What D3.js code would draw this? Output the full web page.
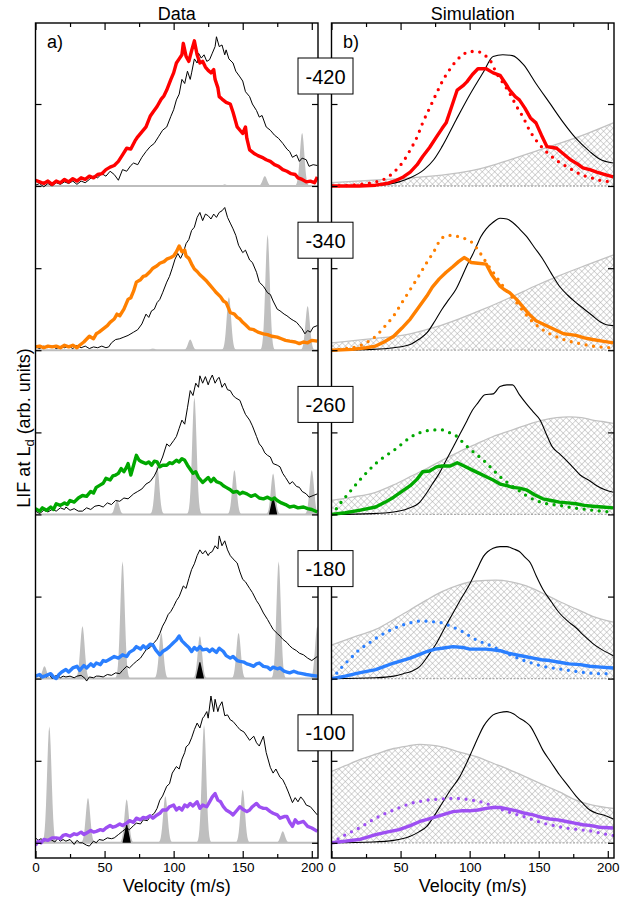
<!DOCTYPE html>
<html><head><meta charset="utf-8">
<script src="https://cdn.jsdelivr.net/npm/d3@7"></script>
<style>body{margin:0;background:#fff}svg{display:block}text{font-family:"Liberation Sans",Arial,sans-serif}</style>
</head><body><svg id="c" width="638" height="903"></svg>
<script>
// ---------------- DATA ----------------
const labels = ["-420","-340","-260","-180","-100"];
const colors = ["#ff0000","#ff8000","#00a800","#2a7fff","#9d4ff2"];
const xTicksMajor = [0,50,100,150,200];
const xTicksMinor = [25,75,125,175];

// Left (Data) panels: colored measured curve, black reference curve
const data1 = [[0,0.07],[3,0.05],[6,0.03],[9,0.06],[12,0.02],[15,0.06],[18,0.04],[21,0.08],[24,0.05],[27,0.09],[30,0.06],[33,0.1],[36,0.08],[39,0.12],[42,0.1],[45,0.14],[48,0.15],[51,0.2],[54,0.23],[57,0.25],[60,0.3],[63,0.38],[66,0.46],[69,0.45],[72,0.55],[74,0.6],[77,0.66],[80,0.72],[83,0.85],[85,0.9],[88,0.97],[91,1.06],[93,1.1],[95,1.17],[98,1.3],[100,1.38],[102,1.5],[104,1.55],[106,1.6],[107,1.74],[109,1.58],[111,1.52],[113,1.65],[115,1.77],[117,1.6],[119,1.5],[121,1.52],[123,1.45],[125,1.41],[127,1.38],[129,1.42],[130,1.3],[132,1.2],[133,1.09],[135,1.06],[138,1.02],[141,1.0],[143,0.9],[146,0.72],[148,0.68],[150,0.64],[152,0.72],[153,0.58],[155,0.44],[158,0.4],[161,0.37],[164,0.35],[167,0.32],[170,0.3],[173,0.26],[176,0.24],[179,0.2],[182,0.18],[185,0.15],[188,0.14],[190,0.1],[193,0.08],[196,0.05],[199,0.06],[202,0.04],[204,0.11]];
const ref1 = [[0,0.01],[3,0.03],[6,-0.01],[9,0.03],[12,0.0],[15,0.04],[18,0.02],[21,0.05],[24,0.03],[27,0.06],[30,0.02],[33,0.06],[36,0.04],[39,0.08],[42,0.12],[45,0.1],[48,0.15],[51,0.12],[54,0.18],[57,0.14],[60,0.07],[63,0.2],[66,0.18],[69,0.25],[71,0.28],[74,0.26],[77,0.35],[80,0.42],[83,0.48],[86,0.52],[89,0.6],[92,0.68],[95,0.72],[98,0.85],[100,0.93],[102,1.05],[104,1.12],[106,1.3],[108,1.25],[110,1.4],[112,1.3],[113,1.38],[115,1.55],[117,1.5],[118,1.62],[120,1.56],[122,1.6],[124,1.52],[126,1.54],[128,1.62],[130,1.7],[131,1.82],[133,1.7],[135,1.72],[137,1.6],[138,1.66],[140,1.55],[143,1.5],[145,1.4],[148,1.33],[150,1.28],[152,1.15],[155,1.09],[157,1.0],[160,0.92],[162,0.84],[164,0.86],[167,0.72],[170,0.68],[173,0.62],[176,0.58],[179,0.52],[182,0.45],[184,0.42],[186,0.35],[189,0.38],[191,0.3],[193,0.34],[196,0.32],[198,0.24],[201,0.26],[204,0.25]];
const data2 = [[0,0.04],[3,0.05],[6,0.03],[9,0.05],[12,0.04],[15,0.05],[18,0.03],[21,0.06],[24,0.04],[27,0.06],[30,0.03],[32,0.06],[35,0.1],[39,0.17],[42,0.14],[44,0.2],[46,0.22],[49,0.26],[52,0.3],[54,0.34],[57,0.38],[59,0.44],[61,0.42],[64,0.5],[67,0.62],[69,0.64],[71,0.72],[73,0.83],[76,0.86],[78,0.9],[80,0.91],[83,0.96],[85,1.0],[88,1.03],[90,1.06],[93,1.08],[95,1.11],[98,1.13],[100,1.15],[102,1.2],[104,1.27],[106,1.2],[108,1.22],[109,1.15],[111,1.12],[113,1.05],[115,0.99],[117,0.96],[119,0.92],[121,0.89],[124,0.84],[126,0.8],[129,0.74],[131,0.7],[134,0.65],[136,0.6],[138,0.58],[140,0.5],[141,0.46],[144,0.44],[146,0.4],[148,0.38],[150,0.34],[152,0.31],[155,0.26],[158,0.25],[161,0.22],[165,0.2],[168,0.19],[171,0.17],[175,0.16],[178,0.14],[181,0.12],[184,0.11],[188,0.1],[191,0.08],[194,0.1],[197,0.09],[200,0.12],[204,0.11]];
const ref2 = [[0,0.04],[3,0.02],[6,0.05],[9,0.03],[12,0.05],[15,0.02],[18,0.04],[21,0.03],[24,0.05],[27,0.02],[30,0.06],[33,0.03],[36,0.05],[39,0.02],[42,0.04],[45,0.03],[48,0.05],[51,0.03],[53,0.04],[55,0.09],[58,0.13],[61,0.14],[64,0.16],[67,0.18],[71,0.22],[74,0.25],[77,0.32],[80,0.44],[82,0.4],[84,0.48],[86,0.5],[88,0.58],[90,0.62],[92,0.7],[95,0.83],[97,0.9],[99,1.0],[101,1.11],[103,1.18],[105,1.12],[107,1.19],[109,1.3],[111,1.35],[113,1.46],[115,1.5],[117,1.62],[119,1.68],[121,1.58],[123,1.66],[125,1.64],[127,1.6],[129,1.66],[131,1.62],[133,1.68],[135,1.7],[137,1.74],[139,1.62],[141,1.55],[143,1.48],[145,1.4],[147,1.28],[150,1.19],[152,1.22],[155,1.1],[157,1.07],[160,0.95],[162,0.83],[165,0.78],[168,0.7],[170,0.68],[172,0.6],[175,0.5],[177,0.48],[180,0.44],[182,0.42],[185,0.38],[187,0.36],[189,0.34],[191,0.3],[193,0.26],[195,0.2],[197,0.24],[199,0.22],[201,0.28],[204,0.3]];
const data3 = [[0,0.07],[3,0.04],[5,0.08],[8,0.05],[11,0.09],[13,0.06],[15,0.13],[18,0.11],[21,0.14],[23,0.12],[25,0.17],[28,0.15],[31,0.2],[34,0.23],[37,0.22],[40,0.28],[42,0.26],[44,0.33],[47,0.36],[49,0.38],[51,0.44],[54,0.42],[56,0.47],[58,0.48],[60,0.5],[62,0.56],[64,0.52],[66,0.58],[67,0.62],[69,0.48],[71,0.6],[73,0.72],[75,0.66],[77,0.64],[80,0.62],[82,0.64],[84,0.6],[86,0.65],[88,0.64],[90,0.58],[92,0.6],[95,0.6],[97,0.63],[99,0.62],[102,0.66],[104,0.64],[106,0.68],[108,0.66],[110,0.6],[112,0.55],[114,0.5],[116,0.52],[118,0.45],[121,0.39],[123,0.42],[125,0.45],[127,0.4],[129,0.44],[131,0.4],[134,0.38],[136,0.35],[138,0.33],[141,0.3],[143,0.27],[146,0.28],[148,0.25],[150,0.27],[153,0.25],[156,0.22],[159,0.24],[162,0.2],[165,0.19],[168,0.21],[171,0.18],[173,0.2],[175,0.17],[178,0.14],[181,0.12],[184,0.09],[187,0.1],[190,0.08],[194,0.09],[197,0.07],[200,0.06],[204,0.03]];
const ref3 = [[0,0.04],[3,0.01],[6,0.05],[9,0.03],[12,0.06],[15,0.04],[18,0.08],[21,0.06],[22,0.09],[25,0.05],[28,0.07],[31,0.04],[34,0.04],[37,0.08],[40,0.06],[43,0.1],[46,0.11],[49,0.09],[52,0.14],[55,0.12],[58,0.17],[61,0.16],[64,0.2],[67,0.19],[71,0.25],[74,0.28],[77,0.31],[80,0.37],[83,0.4],[86,0.47],[88,0.54],[90,0.62],[92,0.7],[95,0.86],[97,0.83],[100,0.9],[102,0.95],[104,1.05],[106,1.15],[108,1.1],[110,1.3],[112,1.51],[114,1.45],[116,1.6],[118,1.55],[119,1.69],[121,1.6],[123,1.68],[125,1.58],[126,1.63],[128,1.7],[130,1.6],[132,1.66],[133,1.67],[135,1.55],[137,1.6],[139,1.52],[141,1.51],[143,1.45],[145,1.42],[148,1.39],[150,1.3],[152,1.22],[155,1.15],[157,1.08],[160,0.95],[162,0.86],[164,0.82],[166,0.75],[168,0.72],[170,0.7],[172,0.62],[175,0.6],[177,0.58],[179,0.5],[181,0.45],[184,0.37],[186,0.4],[189,0.34],[191,0.33],[193,0.28],[196,0.25],[198,0.21],[201,0.23],[204,0.25]];
const data4 = [[0,0.03],[3,0.05],[5,0.02],[8,0.04],[11,0.06],[13,0.02],[15,0.0],[17,0.05],[19,0.08],[22,0.11],[24,0.08],[27,0.13],[30,0.15],[32,0.1],[35,0.16],[37,0.13],[40,0.18],[42,0.15],[44,0.19],[47,0.17],[49,0.22],[51,0.21],[54,0.24],[57,0.27],[60,0.25],[63,0.29],[66,0.27],[68,0.32],[71,0.35],[73,0.39],[76,0.36],[78,0.4],[80,0.37],[83,0.42],[85,0.41],[87,0.35],[90,0.29],[92,0.33],[95,0.36],[97,0.39],[100,0.44],[102,0.47],[104,0.52],[106,0.46],[109,0.41],[111,0.38],[113,0.33],[115,0.38],[117,0.35],[119,0.39],[121,0.35],[124,0.36],[126,0.33],[128,0.36],[131,0.32],[133,0.37],[136,0.33],[138,0.28],[141,0.25],[143,0.27],[146,0.22],[148,0.21],[151,0.2],[153,0.18],[155,0.17],[158,0.15],[160,0.18],[162,0.19],[165,0.15],[168,0.14],[170,0.11],[172,0.14],[175,0.12],[177,0.13],[180,0.09],[182,0.08],[184,0.07],[187,0.09],[190,0.07],[193,0.06],[196,0.05],[200,0.04],[204,0.03]];
const ref4 = [[0,0.03],[2,0.05],[4,0.01],[6,0.04],[8,0.02],[10,0.05],[12,0.0],[14,0.03],[16,0.04],[18,0.01],[20,0.03],[22,0.02],[25,0.03],[28,0.01],[30,0.03],[33,0.04],[36,0.0],[37,-0.03],[39,0.02],[42,0.01],[44,0.03],[46,0.03],[49,0.02],[52,0.05],[55,0.04],[58,0.07],[61,0.06],[63,0.1],[66,0.15],[68,0.13],[71,0.18],[73,0.21],[76,0.25],[78,0.3],[80,0.35],[83,0.38],[86,0.44],[88,0.48],[90,0.55],[92,0.64],[94,0.7],[96,0.78],[98,0.82],[100,0.88],[102,0.95],[104,1.0],[107,1.13],[109,1.1],[111,1.22],[113,1.33],[115,1.4],[117,1.5],[119,1.57],[121,1.52],[123,1.56],[125,1.5],[126,1.53],[128,1.55],[130,1.62],[132,1.58],[133,1.74],[135,1.62],[137,1.68],[139,1.57],[141,1.5],[143,1.46],[146,1.41],[148,1.3],[150,1.21],[152,1.18],[155,1.1],[157,1.05],[160,0.95],[162,0.9],[165,0.8],[168,0.72],[170,0.66],[172,0.6],[175,0.55],[177,0.52],[179,0.48],[182,0.44],[184,0.4],[186,0.37],[189,0.34],[191,0.31],[194,0.29],[197,0.25],[200,0.22],[204,0.27]];
const data5 = [[0,-0.03],[2,0.02],[4,0.0],[6,0.04],[9,0.03],[12,0.06],[15,0.06],[18,0.05],[20,0.09],[22,0.1],[25,0.08],[28,0.11],[30,0.1],[33,0.13],[35,0.1],[37,0.12],[40,0.15],[42,0.13],[44,0.14],[47,0.16],[49,0.15],[51,0.18],[54,0.21],[56,0.19],[58,0.2],[61,0.23],[63,0.21],[66,0.24],[68,0.27],[71,0.25],[73,0.3],[76,0.28],[78,0.31],[80,0.3],[83,0.33],[85,0.3],[88,0.34],[90,0.36],[92,0.4],[95,0.4],[97,0.44],[100,0.46],[102,0.4],[104,0.43],[106,0.4],[108,0.46],[110,0.44],[112,0.48],[114,0.45],[117,0.5],[119,0.42],[121,0.46],[124,0.44],[126,0.5],[128,0.56],[130,0.6],[132,0.52],[134,0.5],[136,0.44],[138,0.4],[141,0.37],[143,0.34],[146,0.4],[148,0.44],[150,0.41],[153,0.38],[155,0.4],[157,0.44],[160,0.48],[162,0.44],[165,0.42],[167,0.42],[170,0.38],[172,0.36],[175,0.34],[177,0.3],[180,0.32],[182,0.32],[184,0.25],[186,0.2],[188,0.28],[190,0.24],[194,0.26],[197,0.2],[200,0.18],[204,0.14]];
const ref5 = [[0,0.06],[2,0.03],[4,0.05],[6,0.02],[8,0.04],[11,0.04],[14,0.01],[16,0.05],[18,0.02],[20,0.04],[22,0.02],[25,0.04],[28,-0.02],[30,0.03],[32,0.0],[34,0.0],[37,-0.03],[39,-0.04],[42,0.02],[44,0.0],[46,0.04],[49,0.03],[52,0.06],[55,0.05],[57,0.06],[60,0.1],[63,0.14],[66,0.18],[68,0.16],[71,0.21],[73,0.24],[76,0.23],[78,0.28],[81,0.27],[83,0.32],[86,0.36],[88,0.42],[90,0.52],[92,0.57],[95,0.69],[97,0.72],[99,0.85],[102,0.93],[104,0.9],[106,1.02],[108,1.1],[109,1.17],[111,1.2],[113,1.28],[115,1.38],[117,1.46],[119,1.4],[121,1.52],[122,1.54],[124,1.6],[125,1.52],[127,1.79],[129,1.6],[130,1.75],[132,1.6],[133,1.66],[135,1.72],[137,1.55],[139,1.56],[141,1.5],[143,1.48],[146,1.42],[148,1.38],[151,1.35],[153,1.3],[155,1.25],[158,1.3],[160,1.22],[162,1.18],[165,1.3],[167,1.1],[170,0.92],[172,0.85],[174,0.9],[177,0.8],[179,0.77],[181,0.7],[183,0.62],[186,0.49],[188,0.55],[190,0.5],[192,0.56],[194,0.52],[196,0.46],[199,0.44],[201,0.4],[204,0.34]];

// Gray resonance peaks (center velocity, height) and black markers
const peakCenters = [[137,166,193],[85,112,140,168,197],[59,88,115,144,172,200],[6.5,34,63,91,119,147,176,204],[10,38,66,94,122,150,179]];
const peakHeights = [[0.02,0.12,0.65],[0.02,0.13,0.65,1.41,0.54],[0.17,0.6,1.43,0.54,0.5,0.54],[0.15,0.64,1.43,0.56,0.52,0.56,1.43,0.64],[1.42,0.55,0.53,0.57,1.44,0.65,0.14]];
const markerCenters = [null,null,172,119,66];
const markerHeights = [null,null,0.2,0.2,0.22];

// Right (Simulation) panels
const hatch1 = [[0,0.04],[30,0.07],[57,0.1],[92,0.16],[110,0.22],[129,0.32],[147,0.42],[165,0.52],[185,0.64],[204,0.77]];
const simRef1 = [[0,0],[20,0],[35,0.01],[49,0.05],[57,0.1],[67,0.2],[74,0.32],[80,0.48],[90,0.8],[100,1.11],[110,1.39],[117,1.58],[124,1.6],[131,1.59],[139,1.48],[148,1.25],[158,1.01],[168,0.77],[177,0.58],[187,0.42],[194,0.33],[204,0.28]];
const simSolid1 = [[0,0],[20,0.0],[32,0.01],[40,0.03],[47,0.07],[52,0.11],[57,0.17],[62,0.26],[66,0.36],[71,0.47],[76,0.6],[80,0.7],[83,0.77],[87,0.97],[91,1.17],[95,1.22],[98,1.27],[102,1.36],[106,1.43],[109,1.43],[112,1.43],[117,1.38],[122,1.35],[126,1.25],[129,1.17],[133,1.09],[136,1.05],[140,0.95],[144,0.83],[148,0.77],[152,0.62],[156,0.48],[160,0.47],[163,0.46],[168,0.39],[173,0.32],[178,0.27],[182,0.22],[187,0.2],[192,0.17],[198,0.14],[204,0.11]];
const simDot1 = [[0,0],[15,0.01],[25,0.03],[32,0.05],[40,0.1],[47,0.2],[52,0.3],[57,0.44],[62,0.6],[66,0.77],[71,0.95],[76,1.13],[81,1.3],[86,1.43],[91,1.54],[95,1.6],[100,1.64],[105,1.64],[109,1.62],[112,1.58],[116,1.5],[119,1.39],[124,1.26],[129,1.13],[134,0.97],[139,0.83],[143,0.69],[148,0.56],[153,0.46],[158,0.38],[164,0.3],[170,0.24],[176,0.18],[182,0.13],[188,0.1],[194,0.07],[204,0.05]];
const hatch2 = [[0,0.09],[30,0.14],[57,0.2],[75,0.28],[92,0.38],[110,0.5],[129,0.64],[147,0.78],[165,0.91],[185,1.04],[204,1.16]];
const simRef2 = [[0,0],[30,0.01],[45,0.03],[57,0.07],[63,0.13],[69,0.21],[75,0.36],[80,0.5],[85,0.62],[90,0.74],[94,0.88],[98,1.03],[102,1.16],[105,1.27],[108,1.38],[112,1.48],[117,1.56],[122,1.61],[127,1.6],[131,1.56],[136,1.48],[141,1.39],[147,1.25],[153,1.11],[159,0.94],[165,0.78],[171,0.67],[177,0.58],[183,0.5],[189,0.42],[195,0.34],[199,0.31],[204,0.3]];
const simSolid2 = [[0,0],[15,0.01],[25,0.03],[32,0.05],[38,0.1],[45,0.17],[51,0.27],[57,0.38],[63,0.52],[69,0.66],[73,0.77],[78,0.87],[83,0.95],[88,1.02],[92,1.08],[96,1.13],[99,1.1],[101,1.07],[106,1.06],[112,1.05],[116,0.92],[122,0.78],[125,0.74],[129,0.7],[134,0.62],[139,0.52],[143,0.44],[148,0.36],[153,0.32],[158,0.28],[163,0.24],[168,0.2],[173,0.19],[177,0.18],[183,0.15],[189,0.13],[196,0.11],[204,0.09]];
const simDot2 = [[0,0],[10,0.02],[20,0.05],[26,0.1],[32,0.17],[38,0.28],[45,0.42],[51,0.58],[57,0.74],[63,0.9],[69,1.07],[74,1.2],[80,1.37],[86,1.4],[93,1.38],[98,1.35],[102,1.31],[107,1.2],[112,1.07],[117,0.95],[122,0.83],[128,0.7],[134,0.58],[140,0.45],[146,0.34],[152,0.26],[158,0.2],[165,0.15],[172,0.11],[180,0.08],[189,0.05],[204,0.03]];
const hatch3 = [[0,0.17],[15,0.21],[32,0.27],[45,0.36],[57,0.46],[69,0.56],[80,0.66],[92,0.76],[105,0.86],[117,0.95],[129,1.02],[141,1.09],[153,1.15],[163,1.18],[172,1.19],[181,1.18],[189,1.15],[197,1.13],[204,1.11]];
const simRef3 = [[0,0],[30,0.01],[45,0.03],[55,0.07],[64,0.15],[68,0.24],[73,0.37],[78,0.5],[83,0.66],[88,0.82],[93,0.98],[98,1.14],[102,1.27],[106,1.36],[111,1.46],[117,1.47],[122,1.56],[127,1.58],[131,1.58],[136,1.46],[141,1.35],[146,1.25],[151,1.15],[155,1.0],[160,0.82],[165,0.74],[170,0.66],[175,0.57],[180,0.48],[186,0.42],[192,0.35],[198,0.3],[204,0.27]];
const simSolid3 = [[0,0],[10,0.02],[20,0.05],[32,0.09],[39,0.15],[45,0.21],[51,0.28],[57,0.35],[62,0.43],[66,0.52],[71,0.53],[76,0.58],[80,0.59],[86,0.59],[91,0.63],[96,0.59],[102,0.54],[107,0.5],[112,0.46],[117,0.42],[122,0.37],[127,0.35],[131,0.33],[136,0.32],[141,0.3],[147,0.24],[153,0.19],[159,0.17],[165,0.15],[171,0.14],[177,0.13],[183,0.11],[189,0.1],[196,0.09],[204,0.08]];
const simDot3 = [[0,0],[4,0.08],[8,0.17],[14,0.29],[20,0.41],[26,0.52],[32,0.62],[38,0.7],[45,0.78],[51,0.86],[57,0.94],[63,0.99],[69,1.02],[75,1.03],[80,1.03],[85,1.0],[90,0.96],[95,0.88],[100,0.8],[105,0.73],[110,0.66],[116,0.56],[122,0.46],[128,0.38],[134,0.31],[141,0.23],[148,0.17],[156,0.13],[165,0.11],[175,0.08],[185,0.06],[195,0.04],[204,0.03]];
const hatch4 = [[0,0.41],[15,0.5],[32,0.6],[45,0.72],[57,0.84],[69,0.96],[80,1.06],[92,1.14],[105,1.19],[119,1.2],[130,1.18],[141,1.13],[153,1.04],[165,0.94],[177,0.85],[189,0.76],[204,0.69]];
const simRef4 = [[0,0],[32,0.01],[45,0.03],[52,0.06],[58,0.09],[64,0.15],[70,0.28],[76,0.43],[82,0.62],[88,0.8],[94,0.98],[100,1.15],[105,1.32],[110,1.49],[117,1.59],[122,1.61],[127,1.61],[132,1.58],[136,1.55],[140,1.48],[144,1.41],[148,1.26],[153,1.09],[159,0.94],[165,0.8],[171,0.7],[177,0.62],[183,0.52],[189,0.43],[196,0.35],[204,0.28]];
const simSolid4 = [[0,0],[10,0.03],[20,0.07],[32,0.11],[45,0.19],[57,0.25],[63,0.29],[69,0.33],[75,0.36],[80,0.37],[88,0.39],[95,0.38],[100,0.36],[106,0.36],[112,0.36],[117,0.35],[122,0.34],[128,0.31],[134,0.29],[140,0.27],[146,0.25],[152,0.23],[158,0.22],[165,0.2],[172,0.18],[180,0.17],[187,0.15],[195,0.14],[204,0.13]];
const simDot4 = [[0,0],[4,0.07],[8,0.15],[14,0.25],[20,0.35],[26,0.42],[32,0.49],[38,0.55],[45,0.61],[51,0.65],[57,0.68],[63,0.7],[69,0.7],[75,0.69],[80,0.68],[86,0.64],[93,0.59],[99,0.53],[105,0.47],[111,0.43],[117,0.39],[123,0.34],[129,0.29],[135,0.25],[141,0.21],[147,0.18],[153,0.15],[160,0.13],[168,0.11],[176,0.09],[185,0.07],[195,0.06],[204,0.06]];
const hatch5 = [[0,0.87],[10,0.94],[20,1.01],[32,1.08],[45,1.15],[55,1.18],[64,1.2],[72,1.19],[80,1.17],[92,1.11],[105,1.05],[117,0.97],[129,0.89],[141,0.8],[153,0.71],[165,0.62],[177,0.52],[189,0.46],[204,0.42]];
const simRef5 = [[0,0],[30,0.01],[45,0.03],[57,0.08],[63,0.13],[69,0.2],[74,0.32],[80,0.48],[86,0.64],[93,0.81],[98,0.98],[102,1.13],[106,1.28],[110,1.42],[114,1.51],[117,1.56],[122,1.59],[127,1.6],[132,1.57],[136,1.52],[140,1.48],[144,1.42],[148,1.3],[153,1.13],[159,0.98],[165,0.83],[171,0.7],[177,0.57],[182,0.48],[187,0.4],[192,0.36],[197,0.34],[204,0.29]];
const simSolid5 = [[0,0],[10,0.02],[20,0.04],[32,0.1],[40,0.13],[49,0.16],[57,0.21],[64,0.26],[70,0.29],[76,0.32],[82,0.35],[88,0.38],[94,0.39],[100,0.39],[106,0.4],[112,0.42],[117,0.43],[122,0.43],[128,0.41],[134,0.39],[140,0.36],[146,0.34],[152,0.31],[158,0.29],[164,0.28],[170,0.26],[176,0.24],[182,0.22],[188,0.21],[194,0.19],[204,0.18]];
const simDot5 = [[0,0],[4,0.04],[8,0.08],[14,0.13],[20,0.18],[26,0.24],[32,0.3],[38,0.35],[45,0.4],[51,0.44],[57,0.48],[63,0.5],[69,0.52],[76,0.53],[86,0.54],[92,0.54],[98,0.53],[105,0.51],[112,0.48],[118,0.44],[124,0.4],[131,0.36],[139,0.32],[146,0.28],[153,0.24],[161,0.21],[170,0.18],[180,0.16],[189,0.14],[197,0.11],[204,0.09]];

const dataSeries = [data1,data2,data3,data4,data5];
const refSeries = [ref1,ref2,ref3,ref4,ref5];
const hatchSeries = [hatch1,hatch2,hatch3,hatch4,hatch5];
const simRefSeries = [simRef1,simRef2,simRef3,simRef4,simRef5];
const simSolidSeries = [simSolid1,simSolid2,simSolid3,simSolid4,simSolid5];
const simDotSeries = [simDot1,simDot2,simDot3,simDot4,simDot5];

// ---------------- LAYOUT ----------------
const svg = d3.select("#c");
const yTop = 23, yBottom = 858;
const base0 = 186, step = 164.2, unit = 82;
const xMax = 204.5;
const xL = d3.scaleLinear().domain([0,xMax]).range([35.5,318]);
const xR = d3.scaleLinear().domain([0,xMax]).range([331.5,614]);
const yS = i => d3.scaleLinear().domain([0,1]).range([base0+step*i, base0+step*i-unit]);

const defs = svg.append("defs");
const pat = defs.append("pattern").attr("id","hatch").attr("patternUnits","userSpaceOnUse")
  .attr("width",4.4).attr("height",4.4).attr("patternTransform","rotate(45)");
pat.append("path").attr("d","M0,0H4.4M0,0V4.4").attr("stroke","#a6a6a6").attr("stroke-width",0.9).attr("fill","none");
[["clipL",xL],["clipR",xR]].forEach(([id,x])=>{
  defs.append("clipPath").attr("id",id).append("rect")
    .attr("x",x(0)).attr("y",yTop).attr("width",x(xMax)-x(0)).attr("height",yBottom-yTop);
});

const gL = svg.append("g").attr("clip-path","url(#clipL)");
const gR = svg.append("g").attr("clip-path","url(#clipR)");

const sigma = 1.6;
for (let i=0;i<5;i++){
  const y = yS(i);
  const line = d3.line().x(d=>xL(d[0])).y(d=>y(d[1]));
  gL.append("line").attr("x1",xL(0)).attr("x2",xL(xMax)).attr("y1",y(0)).attr("y2",y(0))
    .attr("stroke","#bdbdbd").attr("stroke-width",2);
  const area = d3.area().x(d=>xL(d[0])).y0(y(0)).y1(d=>y(d[1]));
  peakCenters[i].forEach((c,k)=>{
    const h = peakHeights[i][k];
    const pts = d3.range(-4.5,4.51,0.3).map(t=>[c+t*sigma, h*Math.exp(-t*t/2)]);
    gL.append("path").attr("d",area(pts)).attr("fill","#bfbfbf");
  });
  if (markerCenters[i]!==null){
    const c = markerCenters[i], h = markerHeights[i];
    gL.append("path").attr("d",area([[c-3,0],[c-0.4,h],[c+0.4,h],[c+3,0]])).attr("fill","#000");
  }
  gL.append("path").attr("d",line(refSeries[i])).attr("fill","none").attr("stroke","#000").attr("stroke-width",1);
  gL.append("path").attr("d",line(dataSeries[i])).attr("fill","none").attr("stroke",colors[i])
    .attr("stroke-width",3.4).attr("stroke-linejoin","round");

  const lineR = d3.line().x(d=>xR(d[0])).y(d=>y(d[1]));
  const lineRs = d3.line().curve(d3.curveMonotoneX).x(d=>xR(d[0])).y(d=>y(d[1]));
  const areaR = d3.area().curve(d3.curveMonotoneX).x(d=>xR(d[0])).y0(y(0)).y1(d=>y(d[1]));
  gR.append("path").attr("d",areaR(hatchSeries[i])).attr("fill","url(#hatch)");
  gR.append("path").attr("d",lineRs(hatchSeries[i])).attr("fill","none").attr("stroke","#c2c2c2").attr("stroke-width",1.3);
  gR.append("line").attr("x1",xR(0)).attr("x2",xR(xMax)).attr("y1",y(0)).attr("y2",y(0))
    .attr("stroke","#aaa").attr("stroke-width",1.3).attr("stroke-dasharray","2,1.5");
  gR.append("path").attr("d",lineRs(simRefSeries[i])).attr("fill","none").attr("stroke","#000").attr("stroke-width",1.1);
  gR.append("path").attr("d",lineRs(simDotSeries[i])).attr("fill","none").attr("stroke",colors[i])
    .attr("stroke-width",3.3).attr("stroke-linecap","round").attr("stroke-dasharray","0,7.6");
  gR.append("path").attr("d",lineR(simSolidSeries[i])).attr("fill","none").attr("stroke",colors[i])
    .attr("stroke-width",3.4).attr("stroke-linejoin","round");
}

[xL,xR].forEach((x,col)=>{
  const ax = svg.append("g");
  for (let i=0;i<5;i++){
    const y = yS(i);
    ax.append("g").attr("transform",`translate(${x(0)},0)`)
      .call(d3.axisLeft(y).tickValues([0,1]).tickSize(-6).tickFormat(""))
      .call(g=>g.select(".domain").remove());
    ax.append("g").attr("transform",`translate(${x(xMax)},0)`)
      .call(d3.axisRight(y).tickValues([0,1]).tickSize(-6).tickFormat(""))
      .call(g=>g.select(".domain").remove());
  }
  ax.append("g").attr("transform",`translate(0,${yBottom})`)
    .call(d3.axisBottom(x).tickValues(xTicksMajor).tickSizeInner(-7).tickSizeOuter(0).tickPadding(4))
    .call(g=>g.select(".domain").remove())
    .call(g=>g.selectAll("text").attr("font-size",13.5).attr("fill","#000").attr("font-family","Liberation Sans, Arial, sans-serif"));
  ax.append("g").attr("transform",`translate(0,${yBottom})`)
    .call(d3.axisBottom(x).tickValues(xTicksMinor).tickSizeInner(-4).tickSizeOuter(0).tickFormat(""))
    .call(g=>g.select(".domain").remove());
  ax.append("g").attr("transform",`translate(0,${yTop})`)
    .call(d3.axisTop(x).tickValues(xTicksMajor).tickSizeInner(-7).tickSizeOuter(0).tickFormat(""))
    .call(g=>g.select(".domain").remove());
  ax.append("g").attr("transform",`translate(0,${yTop})`)
    .call(d3.axisTop(x).tickValues(xTicksMinor).tickSizeInner(-4).tickSizeOuter(0).tickFormat(""))
    .call(g=>g.select(".domain").remove());
  ax.selectAll(".tick line").attr("stroke","#000").attr("stroke-width",1.2);
  svg.append("rect").attr("x",x(0)).attr("y",yTop).attr("width",x(xMax)-x(0)).attr("height",yBottom-yTop)
    .attr("fill","none").attr("stroke","#000").attr("stroke-width",1.4);
  svg.append("text").attr("x",(x(0)+x(xMax))/2).attr("y",892).attr("text-anchor","middle")
    .attr("font-size",18).text("Velocity (m/s)");
  svg.append("text").attr("x",(x(0)+x(xMax))/2).attr("y",20).attr("text-anchor","middle")
    .attr("font-size",18).text(col===0?"Data":"Simulation");
  svg.append("text").attr("x",x(0)+11.5).attr("y",48).attr("font-size",18).text(col===0?"a)":"b)");
});

labels.forEach((t,i)=>{
  const b = base0+step*i;
  svg.append("rect").attr("x",298).attr("y",b-128).attr("width",55).attr("height",36)
    .attr("fill","#fff").attr("stroke","#000").attr("stroke-width",1);
  svg.append("text").attr("x",325.5).attr("y",b-128+25.5).attr("text-anchor","middle")
    .attr("font-size",20).text(t);
});

const yl = svg.append("text").attr("transform","translate(30,428) rotate(-90)")
  .attr("text-anchor","middle").attr("font-size",18);
yl.append("tspan").text("LIF at L");
yl.append("tspan").attr("dy",4).attr("font-size",13).text("d");
yl.append("tspan").attr("dy",-4).text(" (arb. units)");
</script></body></html>
